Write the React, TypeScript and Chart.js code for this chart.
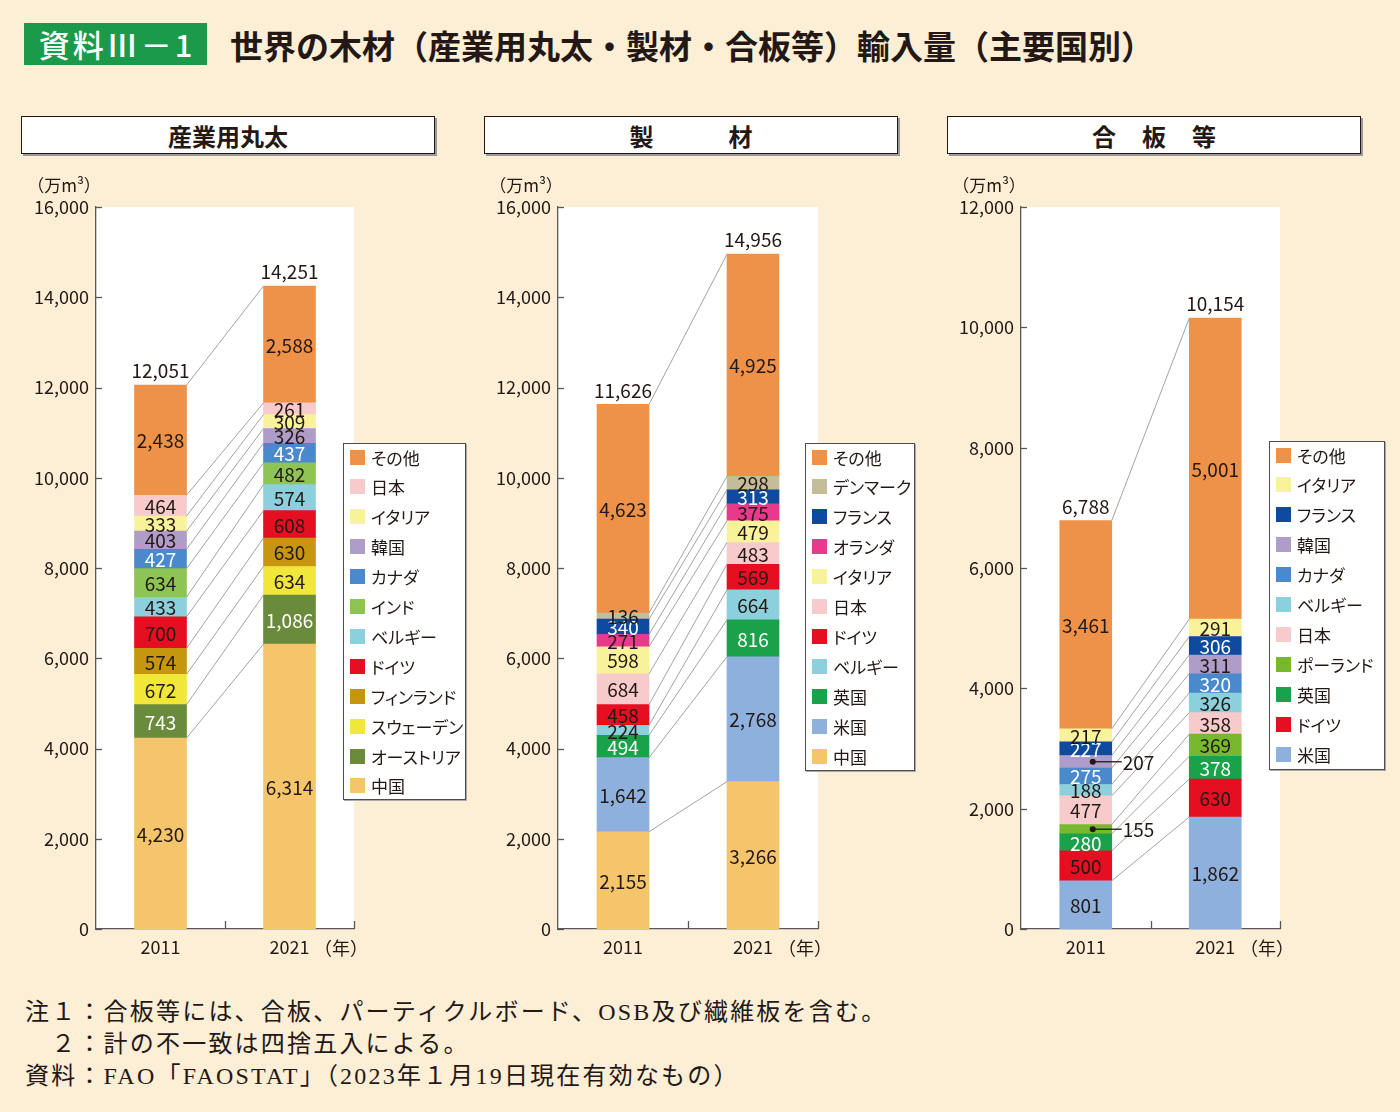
import React, { useEffect, useRef } from "react";
import { Chart, registerables } from "chart.js";

Chart.register(...registerables);

// ---------- data ----------
const years = ["2011", "2021"];

// 産業用丸太 (stack order: bottom → top)
const logCountries = ["中国", "オーストリア", "スウェーデン", "フィンランド", "ドイツ", "ベルギー", "インド", "カナダ", "韓国", "イタリア", "日本", "その他"];
const log2011 = [4230, 743, 672, 574, 700, 433, 634, 427, 403, 333, 464, 2438];
const log2021 = [6314, 1086, 634, 630, 608, 574, 482, 437, 326, 309, 261, 2588];
const logTotals = ["12,051", "14,251"];

// 製材
const lumberCountries = ["中国", "米国", "英国", "ベルギー", "ドイツ", "日本", "イタリア", "オランダ", "フランス", "デンマーク", "その他"];
const lumber2011 = [2155, 1642, 494, 224, 458, 684, 598, 271, 340, 136, 4623];
const lumber2021 = [3266, 2768, 816, 664, 569, 483, 479, 375, 313, 298, 4925];
const lumberTotals = ["11,626", "14,956"];

// 合板等
const plyCountries = ["米国", "ドイツ", "英国", "ポーランド", "日本", "ベルギー", "カナダ", "韓国", "フランス", "イタリア", "その他"];
const ply2011 = [801, 500, 280, 155, 477, 188, 275, 207, 227, 217, 3461];
const ply2021 = [1862, 630, 378, 369, 358, 326, 320, 311, 306, 291, 5001];
const plyTotals = ["6,788", "10,154"];
const plyOutside2011 = ["韓国", "ポーランド"];

const logMax = 16000;
const lumberMax = 16000;
const plyMax = 12000;
const yStep = 2000;

// ---------- styles ----------
const COLORS: Record<string, string> = {
  "その他": "#ee9249",
  "日本": "#f7cacb",
  "イタリア": "#f8f29b",
  "韓国": "#ad9dc8",
  "カナダ": "#4a89cb",
  "インド": "#8dc454",
  "ベルギー": "#8bd0dc",
  "ドイツ": "#e60e21",
  "フィンランド": "#c6960f",
  "スウェーデン": "#f1e73a",
  "オーストリア": "#6a8b3b",
  "中国": "#f5c56b",
  "デンマーク": "#c5bd9a",
  "フランス": "#0e4b9e",
  "オランダ": "#e73a8d",
  "英国": "#19a24a",
  "米国": "#8db0dc",
  "ポーランド": "#77b82e",
};
const WHITE_TEXT = new Set(["カナダ", "オーストリア", "フランス", "英国"]);
const BG = "#fdeed6";
const INK = "#231815";
const AXIS = "#595757";
const FONT = '"Noto Sans CJK JP", "Noto Sans", sans-serif';

type PanelCfg = {
  title: string;
  titleSpacing: number;
  countries: string[];
  a: number[];
  b: number[];
  totals: string[];
  max: number;
  outside: string[];
  canvasLeft: number;
  canvasWidth: number;
  padLeft: number;
  padRight: number;
  boxLeft: number;
  legend: { left: number; top: number; width: number; height: number; first: number };
};

const panels: PanelCfg[] = [
  {
    title: "産業用丸太", titleSpacing: 0,
    countries: logCountries, a: log2011, b: log2021, totals: logTotals, max: logMax, outside: [],
    canvasLeft: 0, canvasWidth: 470, padLeft: 16, padRight: 116, boxLeft: 21,
    legend: { left: 343, top: 443, width: 123, height: 357, first: 13 },
  },
  {
    title: "製　　材", titleSpacing: 9,
    countries: lumberCountries, a: lumber2011, b: lumber2021, totals: lumberTotals, max: lumberMax, outside: [],
    canvasLeft: 470, canvasWidth: 465, padLeft: 8, padRight: 117, boxLeft: 484,
    legend: { left: 805, top: 443, width: 110, height: 328, first: 13 },
  },
  {
    title: "合　板　等", titleSpacing: 1,
    countries: plyCountries, a: ply2011, b: ply2021, totals: plyTotals, max: plyMax, outside: plyOutside2011,
    canvasLeft: 935, canvasWidth: 465, padLeft: 6, padRight: 120, boxLeft: 947,
    legend: { left: 1269, top: 441, width: 116, height: 329, first: 13 },
  },
];

const CANVAS_TOP = 160;
const CANVAS_H = 820;

const fmt = (v: number) => v.toLocaleString("en-US");

const overlayPlugin = {
  id: "overlay",
  beforeDraw(chart: any) {
    const { ctx, chartArea } = chart;
    ctx.save();
    ctx.fillStyle = "#ffffff";
    ctx.fillRect(chartArea.left, chartArea.top, chartArea.right - chartArea.left, chartArea.bottom - chartArea.top);
    ctx.restore();
  },
  afterDatasetsDraw(chart: any, _args: any, opts: any) {
    const cfg: PanelCfg = opts.cfg;
    const { ctx, chartArea } = chart;
    const yScale = chart.scales.y;
    const xScale = chart.scales.x;
    const n = cfg.countries.length;
    ctx.save();

    // connecting lines
    ctx.strokeStyle = "#a3a3a3";
    ctx.lineWidth = 1;
    for (let k = 0; k < n; k++) {
      const meta = chart.getDatasetMeta(k);
      const e0 = meta.data[0];
      const e1 = meta.data[1];
      ctx.beginPath();
      ctx.moveTo(e0.x + e0.width / 2, e0.y);
      ctx.lineTo(e1.x - e1.width / 2, e1.y);
      ctx.stroke();
    }

    // segment labels
    ctx.font = `19px ${FONT}`;
    ctx.textAlign = "center";
    ctx.textBaseline = "middle";
    for (let k = 0; k < n; k++) {
      const c = cfg.countries[k];
      const meta = chart.getDatasetMeta(k);
      for (let j = 0; j < 2; j++) {
        const el = meta.data[j];
        const v = (j === 0 ? cfg.a : cfg.b)[k];
        const cy = (el.y + el.base) / 2;
        if (j === 0 && cfg.outside.includes(c)) {
          const x0 = el.x + 7;
          const x1 = el.x + el.width / 2 + 10;
          ctx.strokeStyle = INK;
          ctx.lineWidth = 1.3;
          ctx.beginPath();
          ctx.moveTo(x0, cy);
          ctx.lineTo(x1, cy);
          ctx.stroke();
          ctx.fillStyle = INK;
          ctx.beginPath();
          ctx.arc(x0, cy, 3, 0, Math.PI * 2);
          ctx.fill();
          ctx.textAlign = "left";
          ctx.fillText(fmt(v), x1 + 1, cy + 1);
          ctx.textAlign = "center";
          continue;
        }
        ctx.fillStyle = WHITE_TEXT.has(c) ? "#ffffff" : INK;
        ctx.fillText(fmt(v), el.x, cy + 1);
      }
    }

    // totals
    const topMeta = chart.getDatasetMeta(n - 1);
    ctx.fillStyle = INK;
    for (let j = 0; j < 2; j++) {
      const el = topMeta.data[j];
      ctx.fillText(cfg.totals[j], el.x, el.y - 14);
    }

    // inward y ticks
    ctx.strokeStyle = AXIS;
    ctx.lineWidth = 1.3;
    for (const t of yScale.ticks) {
      const y = Math.round(yScale.getPixelForValue(t.value)) + 0.5;
      ctx.beginPath();
      ctx.moveTo(chartArea.left, y);
      ctx.lineTo(chartArea.left + 6, y);
      ctx.stroke();
    }
    // x ticks (between categories and at the right end)
    const mid = (xScale.getPixelForValue(0) + xScale.getPixelForValue(1)) / 2;
    for (const x of [mid, chartArea.right]) {
      const xx = Math.round(x) + 0.5;
      ctx.beginPath();
      ctx.moveTo(xx, chartArea.bottom);
      ctx.lineTo(xx, chartArea.bottom - 8);
      ctx.stroke();
    }

    // unit label and year label
    ctx.fillStyle = INK;
    ctx.font = `17px ${FONT}`;
    ctx.textAlign = "center";
    ctx.fillText("（万m³）", chartArea.left - 32, chartArea.top - 21);
    ctx.font = `18px ${FONT}`;
    ctx.fillText("（年）", chartArea.right - 13, chartArea.bottom + 19);
    ctx.restore();
  },
};

function Panel({ cfg }: { cfg: PanelCfg }) {
  const ref = useRef<HTMLCanvasElement>(null);
  useEffect(() => {
    const chart = new Chart(ref.current as HTMLCanvasElement, {
      type: "bar",
      data: {
        labels: years,
        datasets: cfg.countries.map((c, i) => ({
          label: c,
          data: [cfg.a[i], cfg.b[i]],
          backgroundColor: COLORS[c],
          borderWidth: 0,
          barThickness: 52,
        })),
      },
      options: {
        responsive: false,
        animation: false,
        events: [],
        layout: { padding: { left: cfg.padLeft, right: cfg.padRight, top: 47, bottom: 11 } },
        plugins: {
          legend: { display: false },
          tooltip: { enabled: false },
          overlay: { cfg },
        } as any,
        scales: {
          x: {
            stacked: true,
            grid: { display: false, drawTicks: false },
            border: { display: true, color: AXIS, width: 1.3 },
            ticks: { color: INK, font: { family: FONT, size: 18 }, padding: 7 },
            afterFit: (s: any) => { s.height = 40; },
          },
          y: {
            stacked: true,
            min: 0,
            max: cfg.max,
            grid: { display: false, drawTicks: false },
            border: { display: true, color: AXIS, width: 1.3 },
            ticks: {
              stepSize: yStep,
              color: INK,
              font: { family: FONT, size: 18 },
              padding: 7,
              callback: (v: any) => fmt(Number(v)),
            },
            afterFit: (s: any) => { s.width = 80; },
          },
        },
      } as any,
      plugins: [overlayPlugin as any],
    });
    return () => chart.destroy();
  }, []);

  const rows = [...cfg.countries].reverse();
  const L = cfg.legend;
  return (
    <>
      <div
        style={{
          position: "absolute", left: cfg.boxLeft, top: 116, width: 414, height: 38,
          boxSizing: "border-box", background: "#fff", border: `1.5px solid ${INK}`,
          boxShadow: "2px 2px 0 #9a9a9a", display: "flex", alignItems: "center", justifyContent: "center",
          fontFamily: FONT, fontWeight: 700, fontSize: 24, color: INK,
          letterSpacing: cfg.titleSpacing, paddingLeft: cfg.titleSpacing,
        }}
      >
        {cfg.title}
      </div>
      <canvas
        ref={ref}
        width={cfg.canvasWidth}
        height={CANVAS_H}
        style={{ position: "absolute", left: cfg.canvasLeft, top: CANVAS_TOP, width: cfg.canvasWidth, height: CANVAS_H }}
      />
      <div
        style={{
          position: "absolute", left: L.left, top: L.top, width: L.width, height: L.height,
          boxSizing: "border-box", background: "#fff", border: "1.3px solid #4d4d4d",
          boxShadow: "1px 1px 0 #aaa",
        }}
      >
        {rows.map((c, i) => (
          <div
            key={c}
            style={{
              position: "absolute", left: 6, top: L.first + i * 29.9 - 10, height: 20,
              display: "flex", alignItems: "center", whiteSpace: "nowrap",
              fontFamily: FONT, fontSize: 17, color: INK, fontFeatureSettings: '"palt"',
            }}
          >
            <span style={{ display: "inline-block", width: 15, height: 15, background: COLORS[c], marginRight: 6 }} />
            <span>{c}</span>
          </div>
        ))}
      </div>
    </>
  );
}

export default function App() {
  return (
    <div style={{ position: "absolute", left: 0, top: 0, width: 1400, height: 1112, background: BG, overflow: "hidden" }}>
      <div
        style={{
          position: "absolute", left: 24, top: 23, width: 183, height: 42, background: "#1b9a4b",
          color: "#fff", fontFamily: FONT, fontSize: 31, fontWeight: 500, lineHeight: "42px",
          textAlign: "center", letterSpacing: 3, paddingLeft: 3, boxSizing: "border-box",
        }}
      >
        資料Ⅲ－1
      </div>
      <div
        style={{
          position: "absolute", left: 230, top: 22, height: 46, lineHeight: "46px",
          fontFamily: FONT, fontSize: 33, fontWeight: 700, color: INK, whiteSpace: "nowrap",
        }}
      >
        世界の木材（産業用丸太・製材・合板等）輸入量（主要国別）
      </div>
      {panels.map((p) => (
        <Panel key={p.title} cfg={p} />
      ))}
      <div
        style={{
          position: "absolute", left: 25, top: 996, fontFamily: `"Liberation Serif", ${FONT}`,
          fontSize: 24, lineHeight: "32px", letterSpacing: 2.2, color: INK, whiteSpace: "pre",
        }}
      >
        <div>注１：合板等には、合板、パーティクルボード、OSB及び繊維板を含む。</div>
        <div>　２：計の不一致は四捨五入による。</div>
        <div>資料：FAO「FAOSTAT」（2023年１月19日現在有効なもの）</div>
      </div>
    </div>
  );
}
